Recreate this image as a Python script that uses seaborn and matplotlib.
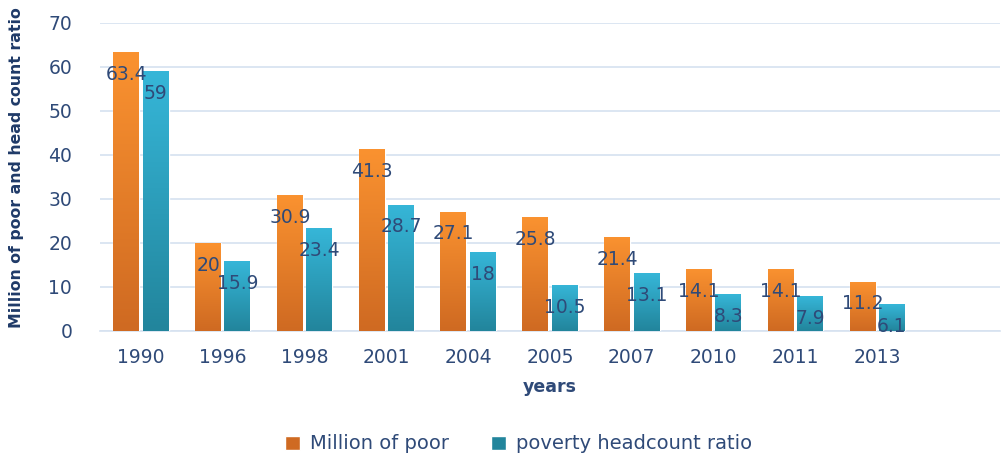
import numpy as np
import pandas as pd
import seaborn as sns
import matplotlib.pyplot as plt
from matplotlib.colors import LinearSegmentedColormap

years = ["1990", "1996", "1998", "2001", "2004", "2005", "2007", "2010", "2011", "2013"]
million_poor = [63.4, 20, 30.9, 41.3, 27.1, 25.8, 21.4, 14.1, 14.1, 11.2]
headcount_ratio = [59, 15.9, 23.4, 28.7, 18, 10.5, 13.1, 8.3, 7.9, 6.1]
series_names = ["Million of poor", "poverty headcount ratio"]

df = pd.DataFrame({
    "year": years * 2,
    "value": million_poor + headcount_ratio,
    "series": [series_names[0]] * len(years) + [series_names[1]] * len(years),
})

text_col = "#2f4a78"
grid_col = "#d6e2f0"
orange_top, orange_bot = "#fa9230", "#cf6a22"
blue_top, blue_bot = "#36b6d8", "#22859c"

sns.set_style("white")
plt.rcParams["font.family"] = ["DejaVu Sans"]

fig = plt.figure(figsize=(10.07, 4.55), dpi=100)
ax = fig.add_axes([100 / 1007, 1 - 331 / 455, 900 / 1007, (331 - 23) / 455])

sns.barplot(data=df, x="year", y="value", hue="series", order=years,
            palette=[orange_top, blue_top], width=0.72, gap=0.12, ax=ax,
            legend=False, errorbar=None, zorder=3)

# gradient fill for the bars
n = len(years)
for i, p in enumerate(ax.patches[:2 * n]):
    top, bot = (orange_top, orange_bot) if i < n else (blue_top, blue_bot)
    cmap = LinearSegmentedColormap.from_list("g", [bot, top])
    x0, w, h = p.get_x(), p.get_width(), p.get_height()
    grad = np.linspace(0, 1, 100).reshape(-1, 1)
    im = ax.imshow(grad, cmap=cmap, origin="lower", aspect="auto",
                   extent=[x0, x0 + w, 0, h], zorder=4)
    im.set_clip_path(p)
    ax.annotate(f"{h:g}", (x0 + w / 2, h), xytext=(0, -16), textcoords="offset points",
                ha="center", va="center", fontsize=13.5, color=text_col, zorder=6)

ax.set_xlim(-0.5, 10.5)
ax.set_ylim(0, 70)
ax.set_yticks(range(0, 71, 10))
ax.yaxis.grid(True, color=grid_col, linewidth=1.2, zorder=0)
for s in ["top", "right", "left"]:
    ax.spines[s].set_visible(False)
ax.spines["bottom"].set_color(grid_col)
ax.spines["bottom"].set_linewidth(1.2)
ax.tick_params(axis="both", length=0, labelsize=13.5, labelcolor=text_col)
ax.tick_params(axis="x", pad=12)
ax.tick_params(axis="y", pad=20)

ax.set_xlabel("years", fontsize=12.5, fontweight="bold", color=text_col, labelpad=8)
ax.set_ylabel("Million of poor and head count ratio", fontsize=11.3, fontweight="bold",
              color="#1f3a68")
ax.yaxis.set_label_coords(-76 / 900, 0.53)

handles = [plt.Rectangle((0, 0), 1, 1, facecolor=orange_bot),
           plt.Rectangle((0, 0), 1, 1, facecolor=blue_bot)]
fig.legend(handles, series_names, loc="lower center", bbox_to_anchor=(0.515, -0.035),
           ncol=2, frameon=False, fontsize=14, labelcolor=text_col,
           handlelength=0.75, handleheight=0.75, columnspacing=2.2, handletextpad=0.5)

fig.savefig("out.png", dpi=100)
